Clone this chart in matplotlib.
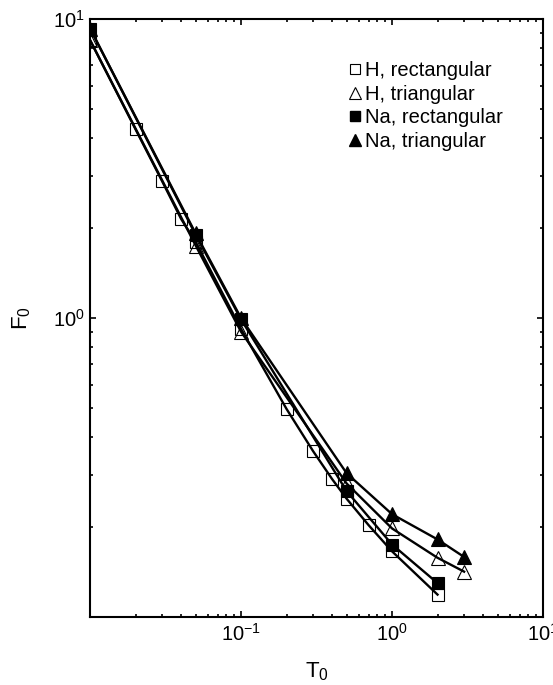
import matplotlib
matplotlib.use("Agg")
import matplotlib.pyplot as plt
from matplotlib.lines import Line2D
from matplotlib.ticker import FixedLocator, LogFormatterSciNotation, NullFormatter

plt.rcParams['font.family'] = ['Liberation Sans', 'DejaVu Sans']
plt.rcParams['mathtext.fontset'] = 'custom'
plt.rcParams['mathtext.rm'] = 'Liberation Sans'

# F0 vs T0 for the four cases
t_h_rect = [0.01, 0.02, 0.03, 0.04, 0.05, 0.1, 0.2, 0.3, 0.4, 0.5, 0.7, 1.0, 2.0]
f_h_rect = [8.5, 4.28, 2.87, 2.15, 1.8, 0.92, 0.497, 0.359, 0.29, 0.249, 0.203, 0.166, 0.119]

t_h_tri = [0.01, 0.05, 0.1, 0.5, 1.0, 2.0, 3.0]
f_h_tri = [8.5, 1.75, 0.90, 0.28, 0.198, 0.158, 0.142]

t_na_rect = [0.01, 0.05, 0.1, 0.5, 1.0, 2.0]
f_na_rect = [9.3, 1.9, 0.99, 0.264, 0.175, 0.130]

t_na_tri = [0.01, 0.05, 0.1, 0.5, 1.0, 2.0, 3.0]
f_na_tri = [9.3, 1.92, 1.0, 0.303, 0.221, 0.182, 0.159]

labels = ["H, rectangular", "H, triangular", "Na, rectangular", "Na, triangular"]

series = [
    (t_h_rect, f_h_rect, 's', 'none', 8, 0.8),
    (t_h_tri, f_h_tri, '^', 'none', 10, 0.8),
    (t_na_rect, f_na_rect, 's', 'black', 8, 0.8),
    (t_na_tri, f_na_tri, '^', 'black', 10, 0.8),
]

fig = plt.figure(figsize=(5.53, 6.85), dpi=100)
ax = fig.add_axes([0.163, 0.099, 0.819, 0.873])

for t, f, m, fc, ms, mew in series:
    ax.plot(t, f, '-', color='black', lw=1.7, zorder=2)
for t, f, m, fc, ms, mew in series:
    ax.plot(t, f, linestyle='none', marker=m, ms=ms, mfc=fc, mec='black',
            mew=mew, zorder=3)

ax.set_xscale('log')
ax.set_yscale('log')
ax.set_xlim(0.01, 10)
ax.set_ylim(0.1, 10)

ax.xaxis.set_major_locator(FixedLocator([0.01, 0.1, 1, 10]))
ax.yaxis.set_major_locator(FixedLocator([0.1, 1, 10]))

sci = LogFormatterSciNotation()


def fmt_x(v, pos):
    return '' if v < 0.05 else sci(v, pos)


def fmt_y(v, pos):
    return '' if v < 0.5 else sci(v, pos)


ax.xaxis.set_major_formatter(fmt_x)
ax.yaxis.set_major_formatter(fmt_y)
ax.xaxis.set_minor_formatter(NullFormatter())
ax.yaxis.set_minor_formatter(NullFormatter())

ax.tick_params(which='both', direction='in', top=True, right=True,
               labelsize=14.5, width=1.2)
ax.tick_params(which='major', length=4, pad=4)
ax.tick_params(which='minor', length=2.5)
for sp in ax.spines.values():
    sp.set_linewidth(1.5)

ax.set_xlabel('T$_0$', fontsize=16, labelpad=11)
ax.set_ylabel('F$_0$', fontsize=16, labelpad=14)

handles = [
    Line2D([], [], linestyle='none', marker='s', ms=7.5, mfc='none', mec='black', mew=0.8),
    Line2D([], [], linestyle='none', marker='^', ms=9, mfc='none', mec='black', mew=0.8),
    Line2D([], [], linestyle='none', marker='s', ms=7.5, mfc='black', mec='black'),
    Line2D([], [], linestyle='none', marker='^', ms=9, mfc='black', mec='black'),
]
ax.legend(handles, labels, loc='upper right', bbox_to_anchor=(0.93, 0.943),
          frameon=False, fontsize=14.5, handlelength=0.6, handletextpad=0.2,
          labelspacing=0.22, borderaxespad=0)

fig.savefig('out.png', dpi=100)
